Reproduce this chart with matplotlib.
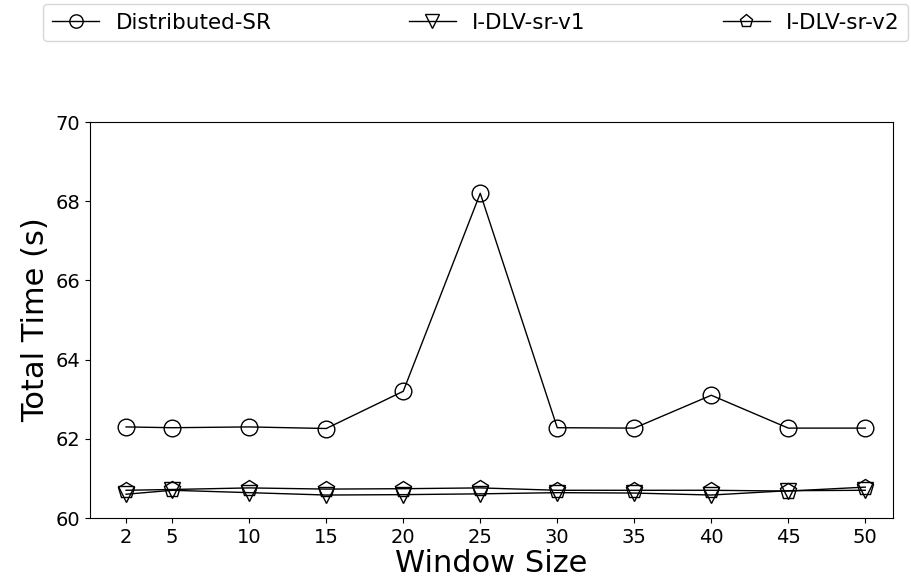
import matplotlib
matplotlib.use("Agg")
import matplotlib.pyplot as plt

window_sizes = [2, 5, 10, 15, 20, 25, 30, 35, 40, 45, 50]
distributed_sr = [62.30, 62.28, 62.30, 62.26, 63.20, 68.20, 62.28, 62.27, 63.10, 62.27, 62.27]
idlv_v1 = [60.60, 60.70, 60.64, 60.58, 60.59, 60.61, 60.64, 60.63, 60.58, 60.69, 60.70]
idlv_v2 = [60.70, 60.72, 60.76, 60.73, 60.74, 60.76, 60.70, 60.70, 60.70, 60.68, 60.78]

fig = plt.figure(figsize=(9.12, 5.88), dpi=100)
ax = fig.add_axes([90 / 912, 1 - 518 / 588, (893 - 90) / 912, (518 - 122) / 588])

style = dict(color="black", linewidth=1.0, markersize=12, fillstyle="none", markeredgewidth=1.0)
ax.plot(window_sizes, distributed_sr, marker="o", label="Distributed-SR", **style)
ax.plot(window_sizes, idlv_v1, marker="v", label="I-DLV-sr-v1", **style)
ax.plot(window_sizes, idlv_v2, marker="p", label="I-DLV-sr-v2", **style)

ax.set_ylim(60, 70)
ax.set_xlim(-0.34, 51.8)
ax.set_xticks(window_sizes)
ax.set_yticks([60, 62, 64, 66, 68, 70])
ax.tick_params(labelsize=14)
ax.set_xlabel("Window Size", fontsize=22, labelpad=2)
ax.set_ylabel("Total Time (s)", fontsize=22)

ax.legend(loc="upper left", bbox_to_anchor=(-0.058, 1.0, 1.077, 0.298), mode="expand",
          ncol=3, fontsize=15.5, frameon=True, borderaxespad=0, markerscale=0.8,
          handlelength=2.2, handletextpad=0.75)

fig.savefig("out.png", dpi=100)
